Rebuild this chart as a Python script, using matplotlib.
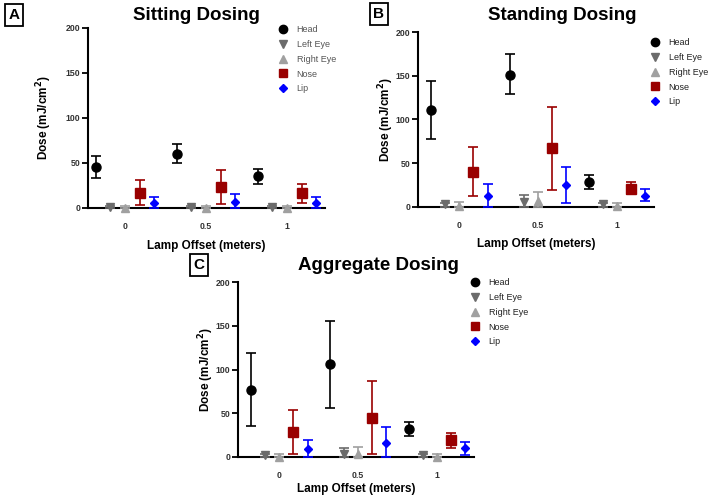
import matplotlib
matplotlib.use("Agg")
import matplotlib.pyplot as plt
from matplotlib.lines import Line2D

plt.rcParams['font.family'] = ['Liberation Sans', 'DejaVu Sans']

offsets = [0, 0.5, 1]
series = ["Head", "Left Eye", "Right Eye", "Nose", "Lip"]
shift = [-0.18, -0.09, 0.0, 0.09, 0.18]
colors = ["#000000", "#6b6b6b", "#a0a0a0", "#990000", "#0000ff"]
markers = ["o", "v", "^", "s", "D"]
msizes = [6.5, 6, 6, 6.5, 4.5]

# Sitting (panel A): mean, lower and upper error bar ends, per series
sit_mean = [[45, 60, 35], [1, 1, 1], [0, 0, 0], [17, 23, 17], [6, 7, 6]]
sit_low = [[33, 50, 27], [0, 0, 0], [0, 0, 0], [3, 4, 6], [0, 0, 0]]
sit_high = [[58, 71, 43], [2, 2, 2], [2, 2, 2], [31, 42, 27], [12, 16, 12]]

# Standing (panel B)
std_mean = [[111, 151, 29], [3, 6, 3], [1, 7, 1], [40, 67, 21], [12, 25, 13]]
std_low = [[78, 129, 21], [0, 0, 0], [0, 0, 0], [13, 19, 15], [0, 4, 7]]
std_high = [[144, 175, 37], [4, 14, 4], [6, 17, 4], [68, 114, 28], [26, 46, 20]]

# Aggregate (panel C)
agg_mean = [[77, 106, 32], [2, 4, 2], [0, 4, 0], [29, 45, 19], [9, 16, 10]]
agg_low = [[36, 56, 24], [0, 0, 0], [0, 0, 0], [4, 3, 10], [0, 0, 2]]
agg_high = [[119, 156, 40], [3, 10, 3], [4, 12, 4], [54, 87, 28], [20, 34, 17]]

fig = plt.figure(figsize=(7.09, 5.0), dpi=100)


def draw_panel(rect, xlim, mean, low, high, title, letter, letter_xy,
               title_xy, xlab_y, ylab_x, leg_xy, leg_color):
    ax = fig.add_axes(rect)
    for i, name in enumerate(series):
        xs = [o + shift[i] for o in offsets]
        err = [[m - l for m, l in zip(mean[i], low[i])],
               [h - m for m, h in zip(mean[i], high[i])]]
        ax.errorbar(xs, mean[i], yerr=err, fmt=markers[i], color=colors[i],
                    ms=msizes[i], capsize=3.5, elinewidth=1.2, capthick=1.2,
                    clip_on=False, zorder=3)
    ax.set_xlim(*xlim)
    ax.set_ylim(0, 200)
    ax.set_xticks(offsets)
    ax.set_xticklabels(["0", "0.5", "1"])
    ax.set_yticks([0, 50, 100, 150, 200])
    for s in ["top", "right"]:
        ax.spines[s].set_visible(False)
    for s in ["left", "bottom"]:
        ax.spines[s].set_linewidth(1.5)
    ax.tick_params(axis="x", length=0, pad=10, labelsize=6.3, labelcolor="#333333")
    ax.tick_params(axis="y", length=4, width=1.3, pad=1.5, labelsize=6.3,
                   labelcolor="#333333")
    for t in ax.get_xticklabels() + ax.get_yticklabels():
        t.set_fontweight("bold")
    ax.set_xlabel("Lamp Offset (meters)", fontsize=8.5, fontweight="bold")
    ax.xaxis.set_label_coords(0.5, xlab_y)
    ax.set_ylabel("Dose (mJ/cm$^\\mathbf{2}$)", fontsize=8.5, fontweight="bold")
    ax.yaxis.set_label_coords(ylab_x, 0.5)
    fig.text(title_xy[0], title_xy[1], title, fontsize=13.5, fontweight="bold",
             ha="center", va="center")
    fig.text(letter_xy[0], letter_xy[1], letter, fontsize=11, fontweight="bold",
             ha="center", va="center",
             bbox=dict(boxstyle="square,pad=0.25", fc="white", ec="black", lw=1.3))
    handles = [Line2D([], [], ls="none", marker=markers[i], color=colors[i],
                      ms=msizes[i] - 0.5) for i in range(len(series))]
    fig.legend(handles, series, loc="upper left", bbox_to_anchor=leg_xy,
               frameon=False, fontsize=6.5, handlelength=1.0,
               handletextpad=1.0, labelspacing=0.65, borderpad=0,
               borderaxespad=0, labelcolor=leg_color)
    return ax


draw_panel([88 / 709, 1 - 208 / 500, 237 / 709, 180 / 500], (-0.228, 1.235),
           sit_mean, sit_low, sit_high, "Sitting Dosing", "A",
           (14 / 709, 1 - 15 / 500), (196 / 709, 1 - 16 / 500),
           -0.178, -0.145, (278.5 / 709, 1 - 25 / 500), "#555555")

draw_panel([418 / 709, 1 - 207 / 500, 236 / 709, 175 / 500], (-0.26, 1.234),
           std_mean, std_low, std_high, "Standing Dosing", "B",
           (379 / 709, 1 - 14 / 500), (562 / 709, 1 - 16 / 500),
           -0.177, -0.093, (650.5 / 709, 1 - 38 / 500), "#222222")

draw_panel([238 / 709, 1 - 457 / 500, 236 / 709, 175 / 500], (-0.26, 1.234),
           agg_mean, agg_low, agg_high, "Aggregate Dosing", "C",
           (199 / 709, 1 - 265 / 500), (378 / 709, 1 - 265 / 500),
           -0.149, -0.093, (470.5 / 709, 1 - 278 / 500), "#222222")

fig.savefig("out.png", dpi=100)
